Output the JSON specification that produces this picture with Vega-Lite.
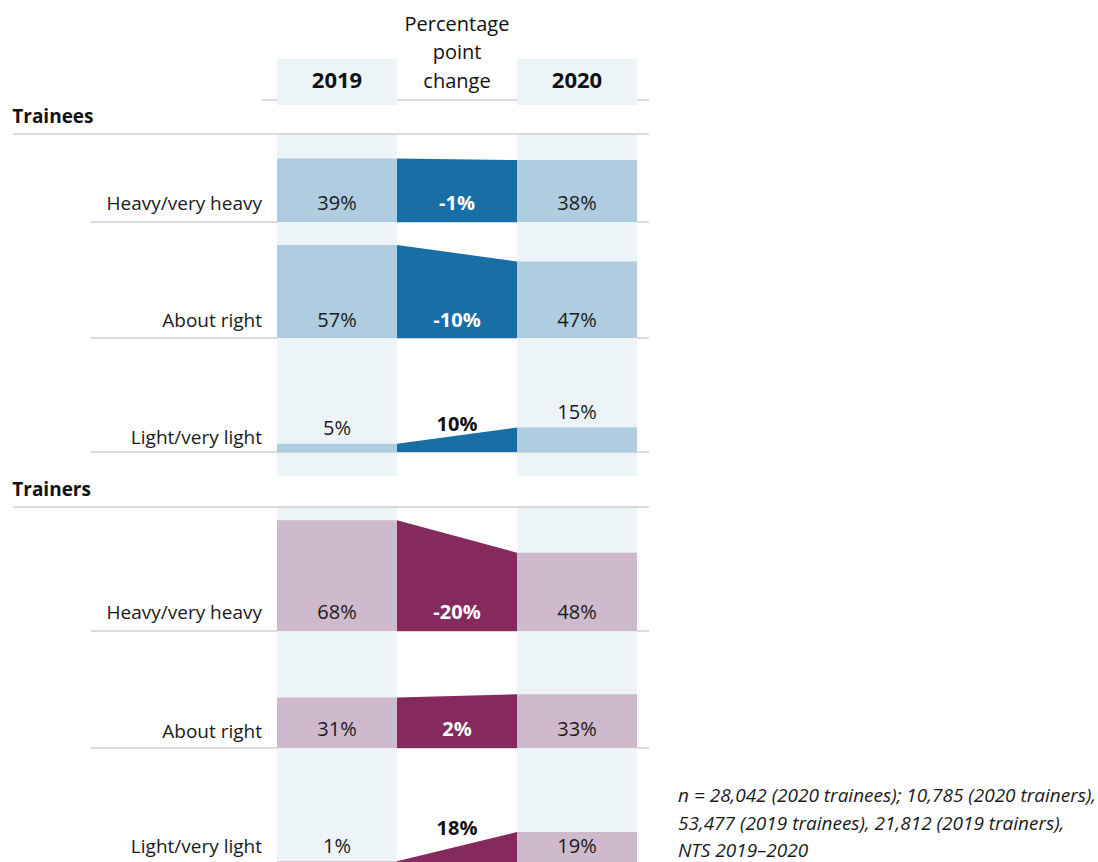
{
  "$schema": "https://vega.github.io/schema/vega-lite/v6.json",
  "padding": {"left": 12, "top": 0, "right": 0, "bottom": 0},
  "bounds": "flush",
  "spacing": 0,
  "config": {
    "view": {"stroke": null},
    "font": "Open Sans",
    "locale": {"number": {"decimal": ".", "thousands": ",", "grouping": [3], "currency": ["$", ""], "minus": "-"}},
    "title": {"anchor": "start", "fontSize": 19, "fontWeight": "bold", "color": "#111111", "offset": 6, "font": "Open Sans"}
  },
  "data": {"values": [
    {"group": "Trainees", "item": "Heavy/very heavy", "2019": 0.39, "2020": 0.38, "change": -0.01},
    {"group": "Trainees", "item": "About right", "2019": 0.57, "2020": 0.47, "change": -0.10},
    {"group": "Trainees", "item": "Light/very light", "2019": 0.05, "2020": 0.15, "change": 0.10},
    {"group": "Trainers", "item": "Heavy/very heavy", "2019": 0.68, "2020": 0.48, "change": -0.20},
    {"group": "Trainers", "item": "About right", "2019": 0.31, "2020": 0.33, "change": 0.02},
    {"group": "Trainers", "item": "Light/very light", "2019": 0.01, "2020": 0.19, "change": 0.18}
  ]},
  "vconcat": [
    {
      "width": 636, "height": 134,
      "data": {"values": [{"col": "2019"}, {"col": "2020"}]},
      "layer": [
        {"data": {"values": [{}]}, "mark": {"type": "rule", "color": "#cfcfcf", "strokeWidth": 1.5, "xOffset": -15},
         "encoding": {"x": {"datum": "2019", "type": "nominal", "bandPosition": 0, "scale": {"type": "band", "domain": ["2019", "change", "2020"], "range": [264, 624], "paddingInner": 0, "paddingOuter": 0}, "axis": null},
                      "x2": {"value": "width"},
                      "y": {"datum": 34, "type": "quantitative", "scale": {"domain": [0, 134], "nice": false, "zero": false}, "axis": null}}},
        {"mark": {"type": "bar", "color": "#ecf4f8"},
         "encoding": {"x": {"field": "col", "type": "nominal", "scale": {"type": "band", "domain": ["2019", "change", "2020"], "range": [264, 624], "paddingInner": 0, "paddingOuter": 0}, "axis": null},
                      "y": {"datum": 29, "type": "quantitative", "scale": {"domain": [0, 134], "nice": false, "zero": false}, "axis": null},
                      "y2": {"datum": 75}}},
        {"mark": {"type": "text", "fontWeight": "bold", "fontSize": 22, "baseline": "alphabetic", "color": "#111111"},
         "encoding": {"x": {"field": "col", "type": "nominal", "scale": {"type": "band", "domain": ["2019", "change", "2020"], "range": [264, 624], "paddingInner": 0, "paddingOuter": 0}, "axis": null},
                      "y": {"datum": 46.5, "type": "quantitative", "scale": {"domain": [0, 134], "nice": false, "zero": false}, "axis": null},
                      "text": {"field": "col"}}},
        {"data": {"values": [{}]}, "mark": {"type": "text", "fontSize": 20, "baseline": "alphabetic", "lineHeight": 28.5, "color": "#111111"},
         "encoding": {"x": {"datum": "change", "type": "nominal", "scale": {"type": "band", "domain": ["2019", "change", "2020"], "range": [264, 624], "paddingInner": 0, "paddingOuter": 0}, "axis": null},
                      "y": {"datum": 103.5, "type": "quantitative", "scale": {"domain": [0, 134], "nice": false, "zero": false}, "axis": null},
                      "text": {"value": ["Percentage", "point", "change"]}}}
      ]
    },
    {
      "width": 636, "height": 88,
      "title": "Trainees",
      "transform": [{"filter": "datum.group === 'Trainees' && datum.item === 'Heavy/very heavy'"}, {"fold": ["2019", "2020"]}],
      "resolve": {"scale": {"x": "independent"}},
      "layer": [
        {"mark": {"type": "bar", "color": "#ecf4f8"}, "encoding": {"x": {"field": "key", "type": "nominal", "scale": {"type": "band", "domain": ["2019", "change", "2020"], "range": [264, 624], "paddingInner": 0, "paddingOuter": 0}, "axis": null}}},
        {"transform": [{"filter": "datum.key === '2019'"}], "mark": {"type": "rule", "color": "#cfcfcf", "strokeWidth": 1.5, "xOffset": -186},
         "encoding": {"x": {"datum": "2019", "type": "nominal", "bandPosition": 0, "scale": {"type": "band", "domain": ["2019", "change", "2020"], "range": [264, 624], "paddingInner": 0, "paddingOuter": 0}, "axis": null}, "x2": {"value": "width"},
                      "y": {"datum": 0, "type": "quantitative", "scale": {"domain": [0, 0.54], "nice": false, "zero": false}, "axis": null}}},
        {"transform": [{"filter": "datum.key === '2019'"}], "mark": {"type": "rule", "color": "#cfcfcf", "strokeWidth": 1.5},
         "encoding": {"y": {"datum": 0.54, "type": "quantitative", "scale": {"domain": [0, 0.54], "nice": false, "zero": false}, "axis": null}}},
        {"mark": {"type": "bar", "color": "#aecde0"},
         "encoding": {"x": {"field": "key", "type": "nominal", "scale": {"type": "band", "domain": ["2019", "change", "2020"], "range": [264, 624], "paddingInner": 0, "paddingOuter": 0}, "axis": null},
                      "y": {"field": "value", "type": "quantitative", "scale": {"domain": [0, 0.54], "nice": false, "zero": false}, "axis": null}, "y2": {"datum": 0}}},
        {"mark": {"type": "area", "color": "#176fa5"},
         "encoding": {"x": {"field": "key", "type": "ordinal", "scale": {"type": "point", "domain": ["2019", "2020"], "range": [384, 504], "padding": 0}, "axis": null},
                      "y": {"field": "value", "type": "quantitative", "scale": {"domain": [0, 0.54], "nice": false, "zero": false}, "axis": null}, "y2": {"datum": 0}}},
        {"transform": [{"filter": "datum.key === '2019'"}], "mark": {"type": "text", "align": "right", "baseline": "alphabetic", "dx": -15, "dy": -12, "fontSize": 19, "color": "#1a1a1a"},
         "encoding": {"x": {"datum": "2019", "type": "nominal", "bandPosition": 0, "scale": {"type": "band", "domain": ["2019", "change", "2020"], "range": [264, 624], "paddingInner": 0, "paddingOuter": 0}, "axis": null},
                      "y": {"datum": 0, "type": "quantitative", "scale": {"domain": [0, 0.54], "nice": false, "zero": false}, "axis": null}, "text": {"field": "item"}}},
        {"transform": [{"filter": "datum.value >= 0.17"}], "mark": {"type": "text", "baseline": "alphabetic", "dy": -12, "fontSize": 20, "color": "#1a1a1a"},
         "encoding": {"x": {"field": "key", "type": "nominal", "scale": {"type": "band", "domain": ["2019", "change", "2020"], "range": [264, 624], "paddingInner": 0, "paddingOuter": 0}, "axis": null},
                      "y": {"datum": 0, "type": "quantitative", "scale": {"domain": [0, 0.54], "nice": false, "zero": false}, "axis": null}, "text": {"field": "value", "type": "quantitative", "format": ".0%"}}},
        {"transform": [{"filter": "datum.value < 0.17"}], "mark": {"type": "text", "baseline": "alphabetic", "dy": -9, "fontSize": 20, "color": "#1a1a1a"},
         "encoding": {"x": {"field": "key", "type": "nominal", "scale": {"type": "band", "domain": ["2019", "change", "2020"], "range": [264, 624], "paddingInner": 0, "paddingOuter": 0}, "axis": null},
                      "y": {"field": "value", "type": "quantitative", "scale": {"domain": [0, 0.54], "nice": false, "zero": false}, "axis": null}, "text": {"field": "value", "type": "quantitative", "format": ".0%"}}},
        {"transform": [{"filter": "datum.key === '2019' && min(datum['2019'], datum['2020']) >= 0.17"}], "mark": {"type": "text", "baseline": "alphabetic", "dy": -12, "fontSize": 20, "fontWeight": "bold", "color": "#ffffff"},
         "encoding": {"x": {"datum": "change", "type": "nominal", "scale": {"type": "band", "domain": ["2019", "change", "2020"], "range": [264, 624], "paddingInner": 0, "paddingOuter": 0}, "axis": null},
                      "y": {"datum": 0, "type": "quantitative", "scale": {"domain": [0, 0.54], "nice": false, "zero": false}, "axis": null}, "text": {"field": "change", "type": "quantitative", "format": ".0%"}}},
        {"transform": [{"filter": "datum.key === '2019' && min(datum['2019'], datum['2020']) < 0.17"}], "mark": {"type": "text", "baseline": "alphabetic", "dy": 3, "fontSize": 20, "fontWeight": "bold", "color": "#111111"},
         "encoding": {"x": {"datum": "change", "type": "nominal", "scale": {"type": "band", "domain": ["2019", "change", "2020"], "range": [264, 624], "paddingInner": 0, "paddingOuter": 0}, "axis": null},
                      "y": {"field": "2020", "type": "quantitative", "scale": {"domain": [0, 0.54], "nice": false, "zero": false}, "axis": null}, "text": {"field": "change", "type": "quantitative", "format": ".0%"}}}
      ]
    },
    {
      "width": 636, "height": 116,
      "transform": [{"filter": "datum.group === 'Trainees' && datum.item === 'About right'"}, {"fold": ["2019", "2020"]}],
      "resolve": {"scale": {"x": "independent"}},
      "layer": [
        {"mark": {"type": "bar", "color": "#ecf4f8"}, "encoding": {"x": {"field": "key", "type": "nominal", "scale": {"type": "band", "domain": ["2019", "change", "2020"], "range": [264, 624], "paddingInner": 0, "paddingOuter": 0}, "axis": null}}},
        {"transform": [{"filter": "datum.key === '2019'"}], "mark": {"type": "rule", "color": "#cfcfcf", "strokeWidth": 1.5, "xOffset": -186},
         "encoding": {"x": {"datum": "2019", "type": "nominal", "bandPosition": 0, "scale": {"type": "band", "domain": ["2019", "change", "2020"], "range": [264, 624], "paddingInner": 0, "paddingOuter": 0}, "axis": null}, "x2": {"value": "width"},
                      "y": {"datum": 0, "type": "quantitative", "scale": {"domain": [0, 0.7117], "nice": false, "zero": false}, "axis": null}}},
        {"mark": {"type": "bar", "color": "#aecde0"},
         "encoding": {"x": {"field": "key", "type": "nominal", "scale": {"type": "band", "domain": ["2019", "change", "2020"], "range": [264, 624], "paddingInner": 0, "paddingOuter": 0}, "axis": null},
                      "y": {"field": "value", "type": "quantitative", "scale": {"domain": [0, 0.7117], "nice": false, "zero": false}, "axis": null}, "y2": {"datum": 0}}},
        {"mark": {"type": "area", "color": "#176fa5"},
         "encoding": {"x": {"field": "key", "type": "ordinal", "scale": {"type": "point", "domain": ["2019", "2020"], "range": [384, 504], "padding": 0}, "axis": null},
                      "y": {"field": "value", "type": "quantitative", "scale": {"domain": [0, 0.7117], "nice": false, "zero": false}, "axis": null}, "y2": {"datum": 0}}},
        {"transform": [{"filter": "datum.key === '2019'"}], "mark": {"type": "text", "align": "right", "baseline": "alphabetic", "dx": -15, "dy": -11, "fontSize": 19, "color": "#1a1a1a"},
         "encoding": {"x": {"datum": "2019", "type": "nominal", "bandPosition": 0, "scale": {"type": "band", "domain": ["2019", "change", "2020"], "range": [264, 624], "paddingInner": 0, "paddingOuter": 0}, "axis": null},
                      "y": {"datum": 0, "type": "quantitative", "scale": {"domain": [0, 0.7117], "nice": false, "zero": false}, "axis": null}, "text": {"field": "item"}}},
        {"transform": [{"filter": "datum.value >= 0.17"}], "mark": {"type": "text", "baseline": "alphabetic", "dy": -11, "fontSize": 20, "color": "#1a1a1a"},
         "encoding": {"x": {"field": "key", "type": "nominal", "scale": {"type": "band", "domain": ["2019", "change", "2020"], "range": [264, 624], "paddingInner": 0, "paddingOuter": 0}, "axis": null},
                      "y": {"datum": 0, "type": "quantitative", "scale": {"domain": [0, 0.7117], "nice": false, "zero": false}, "axis": null}, "text": {"field": "value", "type": "quantitative", "format": ".0%"}}},
        {"transform": [{"filter": "datum.value < 0.17"}], "mark": {"type": "text", "baseline": "alphabetic", "dy": -9, "fontSize": 20, "color": "#1a1a1a"},
         "encoding": {"x": {"field": "key", "type": "nominal", "scale": {"type": "band", "domain": ["2019", "change", "2020"], "range": [264, 624], "paddingInner": 0, "paddingOuter": 0}, "axis": null},
                      "y": {"field": "value", "type": "quantitative", "scale": {"domain": [0, 0.7117], "nice": false, "zero": false}, "axis": null}, "text": {"field": "value", "type": "quantitative", "format": ".0%"}}},
        {"transform": [{"filter": "datum.key === '2019' && min(datum['2019'], datum['2020']) >= 0.17"}], "mark": {"type": "text", "baseline": "alphabetic", "dy": -11, "fontSize": 20, "fontWeight": "bold", "color": "#ffffff"},
         "encoding": {"x": {"datum": "change", "type": "nominal", "scale": {"type": "band", "domain": ["2019", "change", "2020"], "range": [264, 624], "paddingInner": 0, "paddingOuter": 0}, "axis": null},
                      "y": {"datum": 0, "type": "quantitative", "scale": {"domain": [0, 0.7117], "nice": false, "zero": false}, "axis": null}, "text": {"field": "change", "type": "quantitative", "format": ".0%"}}},
        {"transform": [{"filter": "datum.key === '2019' && min(datum['2019'], datum['2020']) < 0.17"}], "mark": {"type": "text", "baseline": "alphabetic", "dy": 3, "fontSize": 20, "fontWeight": "bold", "color": "#111111"},
         "encoding": {"x": {"datum": "change", "type": "nominal", "scale": {"type": "band", "domain": ["2019", "change", "2020"], "range": [264, 624], "paddingInner": 0, "paddingOuter": 0}, "axis": null},
                      "y": {"field": "2020", "type": "quantitative", "scale": {"domain": [0, 0.7117], "nice": false, "zero": false}, "axis": null}, "text": {"field": "change", "type": "quantitative", "format": ".0%"}}}
      ]
    },
    {
      "width": 636, "height": 138,
      "transform": [{"filter": "datum.group === 'Trainees' && datum.item === 'Light/very light'"}, {"fold": ["2019", "2020"]}],
      "resolve": {"scale": {"x": "independent"}},
      "layer": [
        {"mark": {"type": "bar", "color": "#ecf4f8"}, "encoding": {"x": {"field": "key", "type": "nominal", "scale": {"type": "band", "domain": ["2019", "change", "2020"], "range": [264, 624], "paddingInner": 0, "paddingOuter": 0}, "axis": null}}},
        {"transform": [{"filter": "datum.key === '2019'"}], "mark": {"type": "rule", "color": "#cfcfcf", "strokeWidth": 1.5, "xOffset": -186},
         "encoding": {"x": {"datum": "2019", "type": "nominal", "bandPosition": 0, "scale": {"type": "band", "domain": ["2019", "change", "2020"], "range": [264, 624], "paddingInner": 0, "paddingOuter": 0}, "axis": null}, "x2": {"value": "width"},
                      "y": {"datum": 0, "type": "quantitative", "scale": {"domain": [-0.1472, 0.6994], "nice": false, "zero": false}, "axis": null}}},
        {"mark": {"type": "bar", "color": "#aecde0"},
         "encoding": {"x": {"field": "key", "type": "nominal", "scale": {"type": "band", "domain": ["2019", "change", "2020"], "range": [264, 624], "paddingInner": 0, "paddingOuter": 0}, "axis": null},
                      "y": {"field": "value", "type": "quantitative", "scale": {"domain": [-0.1472, 0.6994], "nice": false, "zero": false}, "axis": null}, "y2": {"datum": 0}}},
        {"mark": {"type": "area", "color": "#176fa5"},
         "encoding": {"x": {"field": "key", "type": "ordinal", "scale": {"type": "point", "domain": ["2019", "2020"], "range": [384, 504], "padding": 0}, "axis": null},
                      "y": {"field": "value", "type": "quantitative", "scale": {"domain": [-0.1472, 0.6994], "nice": false, "zero": false}, "axis": null}, "y2": {"datum": 0}}},
        {"transform": [{"filter": "datum.key === '2019'"}], "mark": {"type": "text", "align": "right", "baseline": "alphabetic", "dx": -15, "dy": -8, "fontSize": 19, "color": "#1a1a1a"},
         "encoding": {"x": {"datum": "2019", "type": "nominal", "bandPosition": 0, "scale": {"type": "band", "domain": ["2019", "change", "2020"], "range": [264, 624], "paddingInner": 0, "paddingOuter": 0}, "axis": null},
                      "y": {"datum": 0, "type": "quantitative", "scale": {"domain": [-0.1472, 0.6994], "nice": false, "zero": false}, "axis": null}, "text": {"field": "item"}}},
        {"transform": [{"filter": "datum.value >= 0.17"}], "mark": {"type": "text", "baseline": "alphabetic", "dy": -12, "fontSize": 20, "color": "#1a1a1a"},
         "encoding": {"x": {"field": "key", "type": "nominal", "scale": {"type": "band", "domain": ["2019", "change", "2020"], "range": [264, 624], "paddingInner": 0, "paddingOuter": 0}, "axis": null},
                      "y": {"datum": 0, "type": "quantitative", "scale": {"domain": [-0.1472, 0.6994], "nice": false, "zero": false}, "axis": null}, "text": {"field": "value", "type": "quantitative", "format": ".0%"}}},
        {"transform": [{"filter": "datum.value < 0.17"}], "mark": {"type": "text", "baseline": "alphabetic", "dy": -9, "fontSize": 20, "color": "#1a1a1a"},
         "encoding": {"x": {"field": "key", "type": "nominal", "scale": {"type": "band", "domain": ["2019", "change", "2020"], "range": [264, 624], "paddingInner": 0, "paddingOuter": 0}, "axis": null},
                      "y": {"field": "value", "type": "quantitative", "scale": {"domain": [-0.1472, 0.6994], "nice": false, "zero": false}, "axis": null}, "text": {"field": "value", "type": "quantitative", "format": ".0%"}}},
        {"transform": [{"filter": "datum.key === '2019' && min(datum['2019'], datum['2020']) >= 0.17"}], "mark": {"type": "text", "baseline": "alphabetic", "dy": -12, "fontSize": 20, "fontWeight": "bold", "color": "#ffffff"},
         "encoding": {"x": {"datum": "change", "type": "nominal", "scale": {"type": "band", "domain": ["2019", "change", "2020"], "range": [264, 624], "paddingInner": 0, "paddingOuter": 0}, "axis": null},
                      "y": {"datum": 0, "type": "quantitative", "scale": {"domain": [-0.1472, 0.6994], "nice": false, "zero": false}, "axis": null}, "text": {"field": "change", "type": "quantitative", "format": ".0%"}}},
        {"transform": [{"filter": "datum.key === '2019' && min(datum['2019'], datum['2020']) < 0.17"}], "mark": {"type": "text", "baseline": "alphabetic", "dy": 3, "fontSize": 20, "fontWeight": "bold", "color": "#111111"},
         "encoding": {"x": {"datum": "change", "type": "nominal", "scale": {"type": "band", "domain": ["2019", "change", "2020"], "range": [264, 624], "paddingInner": 0, "paddingOuter": 0}, "axis": null},
                      "y": {"field": "2020", "type": "quantitative", "scale": {"domain": [-0.1472, 0.6994], "nice": false, "zero": false}, "axis": null}, "text": {"field": "change", "type": "quantitative", "format": ".0%"}}}
      ]
    },
    {
      "width": 636, "height": 31,
      "data": {"values": [{}]},
      "mark": {"type": "text"},
      "encoding": {"text": {"value": ""}}
    },
    {
      "width": 636, "height": 124,
      "title": "Trainers",
      "transform": [{"filter": "datum.group === 'Trainers' && datum.item === 'Heavy/very heavy'"}, {"fold": ["2019", "2020"]}],
      "resolve": {"scale": {"x": "independent"}},
      "layer": [
        {"mark": {"type": "bar", "color": "#ecf4f8"}, "encoding": {"x": {"field": "key", "type": "nominal", "scale": {"type": "band", "domain": ["2019", "change", "2020"], "range": [264, 624], "paddingInner": 0, "paddingOuter": 0}, "axis": null}}},
        {"transform": [{"filter": "datum.key === '2019'"}], "mark": {"type": "rule", "color": "#cfcfcf", "strokeWidth": 1.5, "xOffset": -186},
         "encoding": {"x": {"datum": "2019", "type": "nominal", "bandPosition": 0, "scale": {"type": "band", "domain": ["2019", "change", "2020"], "range": [264, 624], "paddingInner": 0, "paddingOuter": 0}, "axis": null}, "x2": {"value": "width"},
                      "y": {"datum": 0, "type": "quantitative", "scale": {"domain": [0, 0.7607], "nice": false, "zero": false}, "axis": null}}},
        {"transform": [{"filter": "datum.key === '2019'"}], "mark": {"type": "rule", "color": "#cfcfcf", "strokeWidth": 1.5},
         "encoding": {"y": {"datum": 0.7607, "type": "quantitative", "scale": {"domain": [0, 0.7607], "nice": false, "zero": false}, "axis": null}}},
        {"mark": {"type": "bar", "color": "#cfb9cd"},
         "encoding": {"x": {"field": "key", "type": "nominal", "scale": {"type": "band", "domain": ["2019", "change", "2020"], "range": [264, 624], "paddingInner": 0, "paddingOuter": 0}, "axis": null},
                      "y": {"field": "value", "type": "quantitative", "scale": {"domain": [0, 0.7607], "nice": false, "zero": false}, "axis": null}, "y2": {"datum": 0}}},
        {"mark": {"type": "area", "color": "#842a5d"},
         "encoding": {"x": {"field": "key", "type": "ordinal", "scale": {"type": "point", "domain": ["2019", "2020"], "range": [384, 504], "padding": 0}, "axis": null},
                      "y": {"field": "value", "type": "quantitative", "scale": {"domain": [0, 0.7607], "nice": false, "zero": false}, "axis": null}, "y2": {"datum": 0}}},
        {"transform": [{"filter": "datum.key === '2019'"}], "mark": {"type": "text", "align": "right", "baseline": "alphabetic", "dx": -15, "dy": -12, "fontSize": 19, "color": "#1a1a1a"},
         "encoding": {"x": {"datum": "2019", "type": "nominal", "bandPosition": 0, "scale": {"type": "band", "domain": ["2019", "change", "2020"], "range": [264, 624], "paddingInner": 0, "paddingOuter": 0}, "axis": null},
                      "y": {"datum": 0, "type": "quantitative", "scale": {"domain": [0, 0.7607], "nice": false, "zero": false}, "axis": null}, "text": {"field": "item"}}},
        {"transform": [{"filter": "datum.value >= 0.17"}], "mark": {"type": "text", "baseline": "alphabetic", "dy": -12, "fontSize": 20, "color": "#1a1a1a"},
         "encoding": {"x": {"field": "key", "type": "nominal", "scale": {"type": "band", "domain": ["2019", "change", "2020"], "range": [264, 624], "paddingInner": 0, "paddingOuter": 0}, "axis": null},
                      "y": {"datum": 0, "type": "quantitative", "scale": {"domain": [0, 0.7607], "nice": false, "zero": false}, "axis": null}, "text": {"field": "value", "type": "quantitative", "format": ".0%"}}},
        {"transform": [{"filter": "datum.value < 0.17"}], "mark": {"type": "text", "baseline": "alphabetic", "dy": -9, "fontSize": 20, "color": "#1a1a1a"},
         "encoding": {"x": {"field": "key", "type": "nominal", "scale": {"type": "band", "domain": ["2019", "change", "2020"], "range": [264, 624], "paddingInner": 0, "paddingOuter": 0}, "axis": null},
                      "y": {"field": "value", "type": "quantitative", "scale": {"domain": [0, 0.7607], "nice": false, "zero": false}, "axis": null}, "text": {"field": "value", "type": "quantitative", "format": ".0%"}}},
        {"transform": [{"filter": "datum.key === '2019' && min(datum['2019'], datum['2020']) >= 0.17"}], "mark": {"type": "text", "baseline": "alphabetic", "dy": -12, "fontSize": 20, "fontWeight": "bold", "color": "#ffffff"},
         "encoding": {"x": {"datum": "change", "type": "nominal", "scale": {"type": "band", "domain": ["2019", "change", "2020"], "range": [264, 624], "paddingInner": 0, "paddingOuter": 0}, "axis": null},
                      "y": {"datum": 0, "type": "quantitative", "scale": {"domain": [0, 0.7607], "nice": false, "zero": false}, "axis": null}, "text": {"field": "change", "type": "quantitative", "format": ".0%"}}},
        {"transform": [{"filter": "datum.key === '2019' && min(datum['2019'], datum['2020']) < 0.17"}], "mark": {"type": "text", "baseline": "alphabetic", "dy": 3, "fontSize": 20, "fontWeight": "bold", "color": "#111111"},
         "encoding": {"x": {"datum": "change", "type": "nominal", "scale": {"type": "band", "domain": ["2019", "change", "2020"], "range": [264, 624], "paddingInner": 0, "paddingOuter": 0}, "axis": null},
                      "y": {"field": "2020", "type": "quantitative", "scale": {"domain": [0, 0.7607], "nice": false, "zero": false}, "axis": null}, "text": {"field": "change", "type": "quantitative", "format": ".0%"}}}
      ]
    },
    {
      "width": 636, "height": 117,
      "transform": [{"filter": "datum.group === 'Trainers' && datum.item === 'About right'"}, {"fold": ["2019", "2020"]}],
      "resolve": {"scale": {"x": "independent"}},
      "layer": [
        {"mark": {"type": "bar", "color": "#ecf4f8"}, "encoding": {"x": {"field": "key", "type": "nominal", "scale": {"type": "band", "domain": ["2019", "change", "2020"], "range": [264, 624], "paddingInner": 0, "paddingOuter": 0}, "axis": null}}},
        {"transform": [{"filter": "datum.key === '2019'"}], "mark": {"type": "rule", "color": "#cfcfcf", "strokeWidth": 1.5, "xOffset": -186},
         "encoding": {"x": {"datum": "2019", "type": "nominal", "bandPosition": 0, "scale": {"type": "band", "domain": ["2019", "change", "2020"], "range": [264, 624], "paddingInner": 0, "paddingOuter": 0}, "axis": null}, "x2": {"value": "width"},
                      "y": {"datum": 0, "type": "quantitative", "scale": {"domain": [0, 0.7178], "nice": false, "zero": false}, "axis": null}}},
        {"mark": {"type": "bar", "color": "#cfb9cd"},
         "encoding": {"x": {"field": "key", "type": "nominal", "scale": {"type": "band", "domain": ["2019", "change", "2020"], "range": [264, 624], "paddingInner": 0, "paddingOuter": 0}, "axis": null},
                      "y": {"field": "value", "type": "quantitative", "scale": {"domain": [0, 0.7178], "nice": false, "zero": false}, "axis": null}, "y2": {"datum": 0}}},
        {"mark": {"type": "area", "color": "#842a5d"},
         "encoding": {"x": {"field": "key", "type": "ordinal", "scale": {"type": "point", "domain": ["2019", "2020"], "range": [384, 504], "padding": 0}, "axis": null},
                      "y": {"field": "value", "type": "quantitative", "scale": {"domain": [0, 0.7178], "nice": false, "zero": false}, "axis": null}, "y2": {"datum": 0}}},
        {"transform": [{"filter": "datum.key === '2019'"}], "mark": {"type": "text", "align": "right", "baseline": "alphabetic", "dx": -15, "dy": -10, "fontSize": 19, "color": "#1a1a1a"},
         "encoding": {"x": {"datum": "2019", "type": "nominal", "bandPosition": 0, "scale": {"type": "band", "domain": ["2019", "change", "2020"], "range": [264, 624], "paddingInner": 0, "paddingOuter": 0}, "axis": null},
                      "y": {"datum": 0, "type": "quantitative", "scale": {"domain": [0, 0.7178], "nice": false, "zero": false}, "axis": null}, "text": {"field": "item"}}},
        {"transform": [{"filter": "datum.value >= 0.17"}], "mark": {"type": "text", "baseline": "alphabetic", "dy": -12, "fontSize": 20, "color": "#1a1a1a"},
         "encoding": {"x": {"field": "key", "type": "nominal", "scale": {"type": "band", "domain": ["2019", "change", "2020"], "range": [264, 624], "paddingInner": 0, "paddingOuter": 0}, "axis": null},
                      "y": {"datum": 0, "type": "quantitative", "scale": {"domain": [0, 0.7178], "nice": false, "zero": false}, "axis": null}, "text": {"field": "value", "type": "quantitative", "format": ".0%"}}},
        {"transform": [{"filter": "datum.value < 0.17"}], "mark": {"type": "text", "baseline": "alphabetic", "dy": -9, "fontSize": 20, "color": "#1a1a1a"},
         "encoding": {"x": {"field": "key", "type": "nominal", "scale": {"type": "band", "domain": ["2019", "change", "2020"], "range": [264, 624], "paddingInner": 0, "paddingOuter": 0}, "axis": null},
                      "y": {"field": "value", "type": "quantitative", "scale": {"domain": [0, 0.7178], "nice": false, "zero": false}, "axis": null}, "text": {"field": "value", "type": "quantitative", "format": ".0%"}}},
        {"transform": [{"filter": "datum.key === '2019' && min(datum['2019'], datum['2020']) >= 0.17"}], "mark": {"type": "text", "baseline": "alphabetic", "dy": -12, "fontSize": 20, "fontWeight": "bold", "color": "#ffffff"},
         "encoding": {"x": {"datum": "change", "type": "nominal", "scale": {"type": "band", "domain": ["2019", "change", "2020"], "range": [264, 624], "paddingInner": 0, "paddingOuter": 0}, "axis": null},
                      "y": {"datum": 0, "type": "quantitative", "scale": {"domain": [0, 0.7178], "nice": false, "zero": false}, "axis": null}, "text": {"field": "change", "type": "quantitative", "format": ".0%"}}},
        {"transform": [{"filter": "datum.key === '2019' && min(datum['2019'], datum['2020']) < 0.17"}], "mark": {"type": "text", "baseline": "alphabetic", "dy": 3, "fontSize": 20, "fontWeight": "bold", "color": "#111111"},
         "encoding": {"x": {"datum": "change", "type": "nominal", "scale": {"type": "band", "domain": ["2019", "change", "2020"], "range": [264, 624], "paddingInner": 0, "paddingOuter": 0}, "axis": null},
                      "y": {"field": "2020", "type": "quantitative", "scale": {"domain": [0, 0.7178], "nice": false, "zero": false}, "axis": null}, "text": {"field": "change", "type": "quantitative", "format": ".0%"}}}
      ]
    },
    {
      "width": 636, "height": 115,
      "transform": [{"filter": "datum.group === 'Trainers' && datum.item === 'Light/very light'"}, {"fold": ["2019", "2020"]}],
      "resolve": {"scale": {"x": "independent"}},
      "layer": [
        {"mark": {"type": "bar", "color": "#ecf4f8"}, "encoding": {"x": {"field": "key", "type": "nominal", "scale": {"type": "band", "domain": ["2019", "change", "2020"], "range": [264, 624], "paddingInner": 0, "paddingOuter": 0}, "axis": null}}},
        {"transform": [{"filter": "datum.key === '2019'"}], "mark": {"type": "rule", "color": "#cfcfcf", "strokeWidth": 1.5, "xOffset": -186},
         "encoding": {"x": {"datum": "2019", "type": "nominal", "bandPosition": 0, "scale": {"type": "band", "domain": ["2019", "change", "2020"], "range": [264, 624], "paddingInner": 0, "paddingOuter": 0}, "axis": null}, "x2": {"value": "width"},
                      "y": {"datum": 0, "type": "quantitative", "scale": {"domain": [0, 0.7055], "nice": false, "zero": false}, "axis": null}}},
        {"mark": {"type": "bar", "color": "#cfb9cd"},
         "encoding": {"x": {"field": "key", "type": "nominal", "scale": {"type": "band", "domain": ["2019", "change", "2020"], "range": [264, 624], "paddingInner": 0, "paddingOuter": 0}, "axis": null},
                      "y": {"field": "value", "type": "quantitative", "scale": {"domain": [0, 0.7055], "nice": false, "zero": false}, "axis": null}, "y2": {"datum": 0}}},
        {"mark": {"type": "area", "color": "#842a5d"},
         "encoding": {"x": {"field": "key", "type": "ordinal", "scale": {"type": "point", "domain": ["2019", "2020"], "range": [384, 504], "padding": 0}, "axis": null},
                      "y": {"field": "value", "type": "quantitative", "scale": {"domain": [0, 0.7055], "nice": false, "zero": false}, "axis": null}, "y2": {"datum": 0}}},
        {"transform": [{"filter": "datum.key === '2019'"}], "mark": {"type": "text", "align": "right", "baseline": "alphabetic", "dx": -15, "dy": -10, "fontSize": 19, "color": "#1a1a1a"},
         "encoding": {"x": {"datum": "2019", "type": "nominal", "bandPosition": 0, "scale": {"type": "band", "domain": ["2019", "change", "2020"], "range": [264, 624], "paddingInner": 0, "paddingOuter": 0}, "axis": null},
                      "y": {"datum": 0, "type": "quantitative", "scale": {"domain": [0, 0.7055], "nice": false, "zero": false}, "axis": null}, "text": {"field": "item"}}},
        {"transform": [{"filter": "datum.value >= 0.17"}], "mark": {"type": "text", "baseline": "alphabetic", "dy": -10, "fontSize": 20, "color": "#1a1a1a"},
         "encoding": {"x": {"field": "key", "type": "nominal", "scale": {"type": "band", "domain": ["2019", "change", "2020"], "range": [264, 624], "paddingInner": 0, "paddingOuter": 0}, "axis": null},
                      "y": {"datum": 0, "type": "quantitative", "scale": {"domain": [0, 0.7055], "nice": false, "zero": false}, "axis": null}, "text": {"field": "value", "type": "quantitative", "format": ".0%"}}},
        {"transform": [{"filter": "datum.value < 0.17"}], "mark": {"type": "text", "baseline": "alphabetic", "dy": -8, "fontSize": 20, "color": "#1a1a1a"},
         "encoding": {"x": {"field": "key", "type": "nominal", "scale": {"type": "band", "domain": ["2019", "change", "2020"], "range": [264, 624], "paddingInner": 0, "paddingOuter": 0}, "axis": null},
                      "y": {"field": "value", "type": "quantitative", "scale": {"domain": [0, 0.7055], "nice": false, "zero": false}, "axis": null}, "text": {"field": "value", "type": "quantitative", "format": ".0%"}}},
        {"transform": [{"filter": "datum.key === '2019' && min(datum['2019'], datum['2020']) >= 0.17"}], "mark": {"type": "text", "baseline": "alphabetic", "dy": -12, "fontSize": 20, "fontWeight": "bold", "color": "#ffffff"},
         "encoding": {"x": {"datum": "change", "type": "nominal", "scale": {"type": "band", "domain": ["2019", "change", "2020"], "range": [264, 624], "paddingInner": 0, "paddingOuter": 0}, "axis": null},
                      "y": {"datum": 0, "type": "quantitative", "scale": {"domain": [0, 0.7055], "nice": false, "zero": false}, "axis": null}, "text": {"field": "change", "type": "quantitative", "format": ".0%"}}},
        {"transform": [{"filter": "datum.key === '2019' && min(datum['2019'], datum['2020']) < 0.17"}], "mark": {"type": "text", "baseline": "alphabetic", "dy": 3, "fontSize": 20, "fontWeight": "bold", "color": "#111111"},
         "encoding": {"x": {"datum": "change", "type": "nominal", "scale": {"type": "band", "domain": ["2019", "change", "2020"], "range": [264, 624], "paddingInner": 0, "paddingOuter": 0}, "axis": null},
                      "y": {"field": "2020", "type": "quantitative", "scale": {"domain": [0, 0.7055], "nice": false, "zero": false}, "axis": null}, "text": {"field": "change", "type": "quantitative", "format": ".0%"}}},
        {"transform": [{"filter": "datum.key === '2019'"}], "mark": {"type": "text", "align": "left", "baseline": "alphabetic", "dx": 41, "fontSize": 19, "fontStyle": "italic", "lineHeight": 27.5, "color": "#1a1a1a"},
         "encoding": {"x": {"datum": "2020", "type": "nominal", "bandPosition": 1, "scale": {"type": "band", "domain": ["2019", "change", "2020"], "range": [264, 624], "paddingInner": 0, "paddingOuter": 0}, "axis": null},
                      "y": {"datum": 0.374, "type": "quantitative", "scale": {"domain": [0, 0.7055], "nice": false, "zero": false}, "axis": null},
                      "text": {"value": ["n = 28,042 (2020 trainees); 10,785 (2020 trainers),", "53,477 (2019 trainees), 21,812 (2019 trainers),", "NTS 2019–2020"]}}}
      ]
    }
  ]
}
